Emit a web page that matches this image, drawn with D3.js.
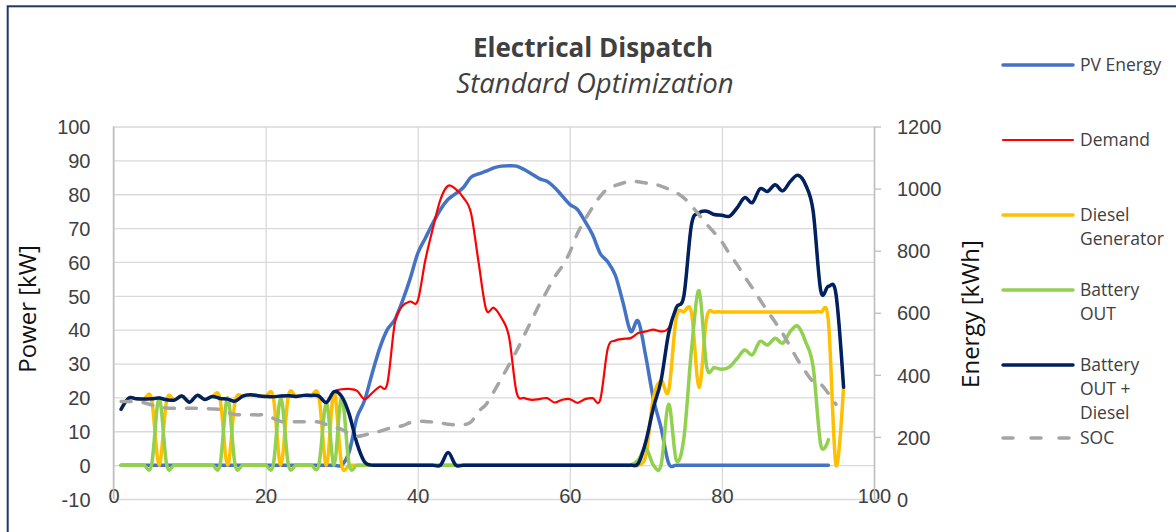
<!DOCTYPE html>
<html>
<head>
<meta charset="utf-8">
<script src="https://cdn.jsdelivr.net/npm/d3@7"></script>
<style>
  html, body { margin: 0; padding: 0; background: #fff; }
  svg { display: block; font-family: "Open Sans", "Noto Sans", sans-serif; }
</style>
</head>
<body>
<svg id="chart" width="1176" height="532"></svg>
<script>
// ---- data (one value per 15-minute step, step 1 first) ----
const pvEnergy = [
  0,0,0,0,0,0,0,0,0,0, 0,0,0,0,0,0,0,0,0,0, 0,0,0,0,0,0,0,0,0,0,
  4,14,19,27,34.5,40,43,48.5,55,62.5, 67,71.5,75.5,78.5,80.2,82,85,86,86.8,87.8,
  88.3,88.4,88.3,87.3,86,84.6,83.8,82,79.5,77, 75.5,72,68,62.5,60,56,48,39.5,42.5,32,
  19.5,11,0.5,0,0,0,0,0,0,0, 0,0,0,0,0,0,0,0,0,0, 0,0,0,0
];
const demand = [
  16.5,19.8,19.6,19.5,19.6,19.8,19.3,19.2,20.4,18.6, 20.6,19.4,20.3,19.7,19.5,18.9,20.4,20.8,20.5,20.3,
  20.2,20.4,20.5,20.3,20.6,20.6,20.4,18.5,21.7,22.4, 22.5,22,19.5,21.3,23.2,24,42,47,48.3,48.5,
  60.5,70,78.5,82.5,81.5,79,74.5,60,46,46.5, 43.5,38,21.5,19.8,19.3,19.5,19.8,18.5,19.3,19.5,
  18.4,19.5,19.8,19.3,34.5,36.8,37.3,37.5,39,39.5, 40,39.5,40.5,46.5,50,71,74.5,75,74,73.8,
  73.5,76,79,77.5,81.6,80.8,82.8,81,83.8,85.6, 82.8,75,51.5,52.8,50.5,23
];
const dieselGen = [
  16.5,19.8,19.6,19.5,19.6,0,19.3,19.2,20.4,18.6, 20.6,19.4,20.3,19.7,0,18.9,20.4,20.8,20.5,20.3,
  20.2,0,20.5,20.3,20.6,20.6,20.4,0,21.7,0, 0,0,0,0,0,0,0,0,0,0,
  0,0,0,0,0,0,0,0,0,0, 0,0,0,0,0,0,0,0,0,0,
  0,0,0,0,0,0,0,0,0,3, 20,25,22,43.5,45.3,45,23,43.5,45.2,45.2,
  45.2,45.2,45.2,45.2,45.2,45.2,45.2,45.2,45.2,45.2, 45.2,45.2,45.2,42.5,0,23.2
];
const batteryOut = [
  0,0,0,0,0,20,0,0,0,0, 0,0,0,0,20,0,0,0,0,0,
  0,20,0,0,0,0,0,18.5,0,20.3, 0,0,0,0,0,0,0,0,0,0,
  0,0,0,0,0,0,0,0,0,0, 0,0,0,0,0,0,0,0,0,0,
  0,0,0,0,0,0,0,0,1.5,5, 0,0,18,1.5,8,34,51.5,29,28.8,28.3,
  29,31.5,34,32.6,36.5,35.5,37.5,36,39.5,41, 36.5,29,6,7.5
];
const batteryPlusDiesel = [
  16.5,19.8,19.6,19.5,19.6,19.8,19.3,19.2,20.4,18.6, 20.6,19.4,20.3,19.7,19.5,18.9,20.4,20.8,20.5,20.3,
  20.2,20.4,20.5,20.3,20.6,20.6,20.4,18.5,21.7,20.3, 15,6.5,1,0,0,0,0,0,0,0,
  0,0,0,3.7,0,0,0,0,0,0, 0,0,0,0,0,0,0,0,0,0,
  0,0,0,0,0,0,0,0,0.5,7, 17,25,39,46.5,50,71,74.5,75,74,73.8,
  73.5,76,79,77.5,81.6,80.8,82.8,81,83.8,85.6, 82.8,75,51.5,52.8,50.5,23
];
const soc = [
  314,314,313,310,303,297,293,292,292,292, 292,291,290,288,278,272,271,271,271,270,
  260,250,249,249,249,249,248,240,232,224, 210,202,206,213,218,226,231,236,246,250,
  250,248,245,241,239,239,248,282,305,345, 388,432,477,527,577,627,670,715,750,795,
  855,900,940,975,1000,1010,1018,1024,1022,1018, 1015,1008,998,987,970,945,915,885,858,828,
  790,755,716,680,642,605,570,533,490,447, 410,378,370,340,305
];

const xTicks = [0, 20, 40, 60, 80, 100];
const powerTicks = [-10, 0, 10, 20, 30, 40, 50, 60, 70, 80, 90, 100];
const energyTicks = [0, 200, 400, 600, 800, 1000, 1200];

const seriesList = [
  { name: ["PV Energy"], values: pvEnergy, color: "#4472C4", width: 3.5, axis: "power" },
  { name: ["Demand"], values: demand, color: "#FF0000", width: 2.2, axis: "power" },
  { name: ["Diesel", "Generator"], values: dieselGen, color: "#FFC000", width: 3.5, axis: "power" },
  { name: ["Battery", "OUT"], values: batteryOut, color: "#92D050", width: 3.5, axis: "power" },
  { name: ["Battery", "OUT +", "Diesel"], values: batteryPlusDiesel, color: "#002060", width: 3.5, axis: "power" },
  { name: ["SOC"], values: soc, color: "#A5A5A5", width: 3.5, axis: "energy", dash: true }
];

// ---- layout ----
const svg = d3.select("#chart");
const plot = { left: 113.5, right: 874, top: 126.5, bottom: 499 };
const plainNumber = d => String(d);

const x = d3.scaleLinear().domain([0, 100]).range([plot.left, plot.right]);
const yPower = d3.scaleLinear().domain([-10, 100]).range([plot.bottom, plot.top]);
const yEnergy = d3.scaleLinear().domain([0, 1200]).range([plot.bottom, plot.top]);

// outer frame
svg.append("rect")
  .attr("x", 7.7).attr("y", 6.3)
  .attr("width", 1200).attr("height", 560)
  .attr("fill", "#fff").attr("stroke", "#203864").attr("stroke-width", 2);

// horizontal gridlines + left labels
const gLeft = svg.append("g")
  .attr("transform", `translate(${plot.left},0)`)
  .call(d3.axisLeft(yPower).tickValues(powerTicks).tickFormat(plainNumber)
    .tickSize(-(plot.right - plot.left)).tickSizeOuter(0).tickPadding(23));
gLeft.select(".domain").remove();
gLeft.selectAll(".tick line").attr("stroke", "#D9D9D9").attr("stroke-width", 1.3);
gLeft.selectAll(".tick text")
  .attr("fill", "#404040").style("font-size", "20px").attr("dy", "0.36em");

// vertical gridlines + bottom labels
const gBottom = svg.append("g")
  .attr("transform", `translate(0,${plot.bottom})`)
  .call(d3.axisBottom(x).tickValues(xTicks).tickFormat(plainNumber)
    .tickSize(-(plot.bottom - plot.top)).tickSizeOuter(0));
gBottom.select(".domain").remove();
gBottom.selectAll(".tick line").attr("stroke", "#D9D9D9").attr("stroke-width", 1.3);
gBottom.selectAll(".tick text")
  .attr("fill", "#404040").style("font-size", "20px")
  .attr("y", -3).attr("dy", "0.36em");

// right energy axis
const gRight = svg.append("g")
  .attr("transform", `translate(${plot.right},0)`)
  .call(d3.axisRight(yEnergy).tickValues(energyTicks).tickFormat(plainNumber)
    .tickSize(7).tickSizeOuter(0).tickPadding(16));
gRight.select(".domain").attr("stroke", "#BFBFBF").attr("stroke-width", 1.5);
gRight.selectAll(".tick line").attr("stroke", "#BFBFBF").attr("stroke-width", 1.3);
gRight.selectAll(".tick text")
  .attr("fill", "#404040").style("font-size", "20px").attr("dy", "0.36em");

// left frame edge
svg.append("line")
  .attr("x1", plot.left).attr("x2", plot.left)
  .attr("y1", plot.top).attr("y2", plot.bottom)
  .attr("stroke", "#BFBFBF").attr("stroke-width", 1.5);

// series (smoothed lines)
const line = (yScale) => d3.line()
  .x((d, i) => x(i + 1))
  .y(d => yScale(d))
  .curve(d3.curveCardinal.tension(0));

const gSeries = svg.append("g");
seriesList.forEach(s => {
  const yScale = s.axis === "energy" ? yEnergy : yPower;
  const p = gSeries.append("path")
    .datum(s.values)
    .attr("d", line(yScale))
    .attr("fill", "none")
    .attr("stroke", s.color)
    .attr("stroke-width", s.width)
    .attr("stroke-linejoin", "round")
    .attr("stroke-linecap", "round");
  if (s.dash) p.attr("stroke-dasharray", "10,12");
});

// titles
svg.append("text")
  .attr("x", 593).attr("y", 57)
  .attr("text-anchor", "middle")
  .attr("fill", "#404040")
  .style("font-size", "26px").style("font-weight", "bold")
  .text("Electrical Dispatch");
svg.append("text")
  .attr("x", 595).attr("y", 93)
  .attr("text-anchor", "middle")
  .attr("fill", "#404040")
  .style("font-size", "27.5px").style("font-style", "italic")
  .text("Standard Optimization");

// axis titles
svg.append("text")
  .attr("transform", "translate(36,309) rotate(-90)")
  .attr("text-anchor", "middle")
  .attr("fill", "#111")
  .style("font-size", "24px")
  .text("Power [kW]");
svg.append("text")
  .attr("transform", "translate(979,314) rotate(-90)")
  .attr("text-anchor", "middle")
  .attr("fill", "#111")
  .style("font-size", "24px")
  .text("Energy [kWh]");

// legend
const legendY = [65, 140, 215, 290, 365, 438];
const gLegend = svg.append("g");
seriesList.forEach((s, i) => {
  const y0 = legendY[i];
  const l = gLegend.append("line")
    .attr("x1", 1003).attr("x2", 1073)
    .attr("y1", y0).attr("y2", y0)
    .attr("stroke", s.color).attr("stroke-width", s.width)
    .attr("stroke-linecap", "round");
  if (s.dash) l.attr("stroke-dasharray", "10,18");
  const t = gLegend.append("text")
    .attr("x", 1080).attr("y", y0)
    .attr("fill", "#404040")
    .style("font-size", "17.5px");
  s.name.forEach((part, j) => {
    t.append("tspan")
      .attr("x", 1080)
      .attr("y", y0 + j * 24)
      .attr("dy", "0.36em")
      .text(part);
  });
});
</script>
</body>
</html>
